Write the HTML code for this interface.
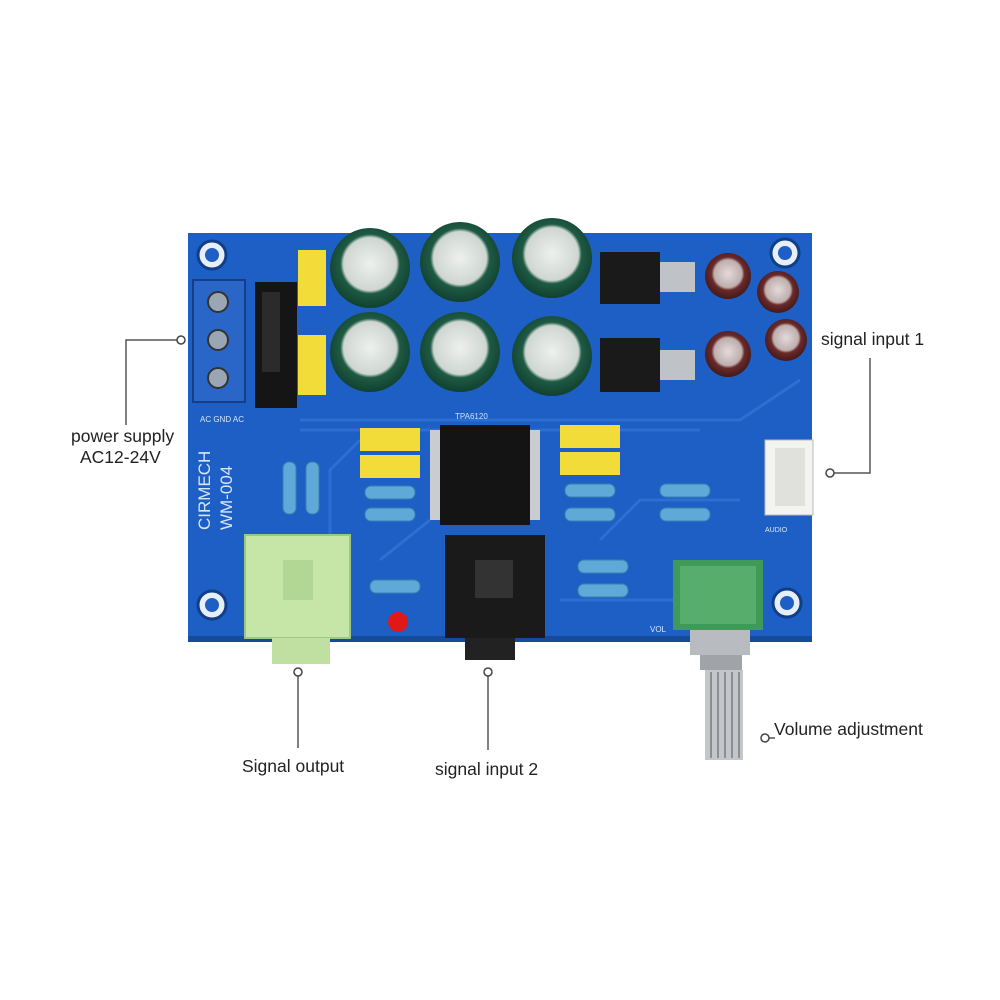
<!DOCTYPE html>
<html><head><meta charset="utf-8"><style>
html,body{margin:0;padding:0;background:#fff;}
svg{display:block}
text{font-family:"Liberation Sans",sans-serif;}
</style></head><body>
<svg width="1000" height="1000" viewBox="0 0 1000 1000" xmlns="http://www.w3.org/2000/svg">
<defs>
<radialGradient id="cap" cx="0.5" cy="0.45" r="0.6"><stop offset="0" stop-color="#eef0ee"/><stop offset="0.55" stop-color="#cfd6d2"/><stop offset="0.62" stop-color="#1e5a44"/><stop offset="1" stop-color="#0d3a2a"/></radialGradient>
<radialGradient id="bcap" cx="0.5" cy="0.45" r="0.6"><stop offset="0" stop-color="#e4dada"/><stop offset="0.5" stop-color="#bfaeae"/><stop offset="0.6" stop-color="#6a2a2a"/><stop offset="1" stop-color="#3a1414"/></radialGradient>
</defs>
<rect width="1000" height="1000" fill="#fff"/>
<rect x="188" y="233" width="624" height="407" fill="#1d5fc4"/>
<rect x="188" y="636" width="624" height="6" fill="#164a9a"/>
<g stroke="#2f74d6" stroke-width="3" fill="none" opacity="0.8">
<path d="M300 420 L740 420 L800 380"/><path d="M300 430 L700 430"/><path d="M330 540 L330 470 L360 440"/>
<path d="M600 540 L640 500 L740 500"/><path d="M380 560 L430 520"/><path d="M560 600 L680 600"/>
</g>
<g fill="#e8eef6" stroke="#0f3f8a" stroke-width="3">
<circle cx="212" cy="255" r="14"/><circle cx="785" cy="253" r="14"/><circle cx="212" cy="605" r="14"/><circle cx="787" cy="603" r="14"/>
</g>
<g fill="#1d5fc4"><circle cx="212" cy="255" r="7"/><circle cx="785" cy="253" r="7"/><circle cx="212" cy="605" r="7"/><circle cx="787" cy="603" r="7"/></g>
<rect x="193" y="280" width="52" height="122" fill="#2a66c8" stroke="#153e86" stroke-width="2"/>
<g fill="#9aa6b4" stroke="#333" stroke-width="2"><circle cx="218" cy="302" r="10"/><circle cx="218" cy="340" r="10"/><circle cx="218" cy="378" r="10"/></g>
<rect x="255" y="282" width="42" height="126" fill="#151515"/>
<rect x="262" y="292" width="18" height="80" fill="#2b2b2b"/>
<rect x="298" y="250" width="28" height="56" fill="#f2dc3a"/><rect x="298" y="335" width="28" height="60" fill="#f2dc3a"/>
<g fill="url(#cap)">
<circle cx="370" cy="268" r="40"/><circle cx="460" cy="262" r="40"/><circle cx="552" cy="258" r="40"/>
<circle cx="370" cy="352" r="40"/><circle cx="460" cy="352" r="40"/><circle cx="552" cy="356" r="40"/>
</g>
<rect x="600" y="252" width="60" height="52" fill="#1a1a1a"/><rect x="660" y="262" width="35" height="30" fill="#bfc2c6"/>
<rect x="600" y="338" width="60" height="54" fill="#1a1a1a"/><rect x="660" y="350" width="35" height="30" fill="#bfc2c6"/>
<g fill="url(#bcap)"><circle cx="728" cy="276" r="23"/><circle cx="778" cy="292" r="21"/><circle cx="728" cy="354" r="23"/><circle cx="786" cy="340" r="21"/></g>
<g fill="#c9ccd0"><rect x="430" y="430" width="10" height="90"/><rect x="530" y="430" width="10" height="90"/></g>
<rect x="440" y="425" width="90" height="100" fill="#141414"/>
<text x="455" y="419" font-size="8" fill="#cfe0f7">TPA6120</text>
<rect x="360" y="428" width="60" height="23" fill="#f2dc3a"/><rect x="360" y="455" width="60" height="23" fill="#f2dc3a"/>
<rect x="560" y="425" width="60" height="23" fill="#f2dc3a"/><rect x="560" y="452" width="60" height="23" fill="#f2dc3a"/>
<g fill="#5ea9d8" stroke="#3b7fb0">
<rect x="365" y="486" width="50" height="13" rx="6"/><rect x="365" y="508" width="50" height="13" rx="6"/>
<rect x="565" y="484" width="50" height="13" rx="6"/><rect x="565" y="508" width="50" height="13" rx="6"/>
<rect x="660" y="484" width="50" height="13" rx="6"/><rect x="660" y="508" width="50" height="13" rx="6"/>
<rect x="578" y="560" width="50" height="13" rx="6"/><rect x="578" y="584" width="50" height="13" rx="6"/>
<rect x="370" y="580" width="50" height="13" rx="6"/>
<rect x="283" y="462" width="13" height="52" rx="6"/><rect x="306" y="462" width="13" height="52" rx="6"/>
</g>
<circle cx="398" cy="622" r="10" fill="#e01818"/>
<text transform="translate(210,530) rotate(-90)" font-size="17" fill="#d8e6f8" font-family="Liberation Mono,monospace">CIRMECH</text>
<text transform="translate(232,530) rotate(-90)" font-size="17" fill="#d8e6f8" font-family="Liberation Mono,monospace">WM-004</text>
<text x="200" y="422" font-size="8" fill="#d8e6f8">AC GND AC</text>
<text x="650" y="632" font-size="8" fill="#d8e6f8">VOL</text>
<text x="765" y="532" font-size="7" fill="#d8e6f8">AUDIO</text>
<rect x="765" y="440" width="48" height="75" fill="#f3f3f0" stroke="#bbb"/>
<rect x="775" y="448" width="30" height="58" fill="#e0e0dc"/>
<rect x="245" y="535" width="105" height="103" fill="#c6e6a8" stroke="#9fc784" stroke-width="2"/>
<rect x="283" y="560" width="30" height="40" fill="#b2d693"/>
<rect x="272" y="638" width="58" height="26" fill="#bfe0a0"/>
<rect x="445" y="535" width="100" height="103" fill="#1a1a1a"/>
<rect x="475" y="560" width="38" height="38" fill="#333"/>
<rect x="465" y="638" width="50" height="22" fill="#222"/>
<rect x="673" y="560" width="90" height="70" fill="#3f9a5a"/>
<rect x="680" y="566" width="76" height="58" fill="#56ad6c"/>
<rect x="690" y="630" width="60" height="25" fill="#b8bcc0"/>
<rect x="700" y="655" width="42" height="15" fill="#a0a4a8"/>
<rect x="705" y="670" width="38" height="90" fill="#c4c7ca"/>
<g stroke="#8b8f93" stroke-width="2"><line x1="711" y1="672" x2="711" y2="758"/><line x1="718" y1="672" x2="718" y2="758"/><line x1="725" y1="672" x2="725" y2="758"/><line x1="732" y1="672" x2="732" y2="758"/><line x1="739" y1="672" x2="739" y2="758"/></g>
<g stroke="#555" stroke-width="1.5" fill="none">
<polyline points="181,340 126,340 126,425"/>
<polyline points="830,473 870,473 870,358"/>
<line x1="298" y1="672" x2="298" y2="748"/>
<line x1="488" y1="672" x2="488" y2="750"/>
<line x1="765" y1="738" x2="775" y2="738"/>
</g>
<g fill="#fff" stroke="#444" stroke-width="1.5">
<circle cx="181" cy="340" r="4"/><circle cx="830" cy="473" r="4"/><circle cx="298" cy="672" r="4"/><circle cx="488" cy="672" r="4"/><circle cx="765" cy="738" r="4"/>
</g>
<g font-size="17.5" fill="#222">
<text x="71" y="442">power supply</text>
<text x="80" y="463">AC12-24V</text>
<text x="821" y="345">signal input 1</text>
<text x="242" y="772">Signal output</text>
<text x="435" y="775">signal input 2</text>
<text x="774" y="735">Volume adjustment</text>
</g>
</svg>
</body></html>
